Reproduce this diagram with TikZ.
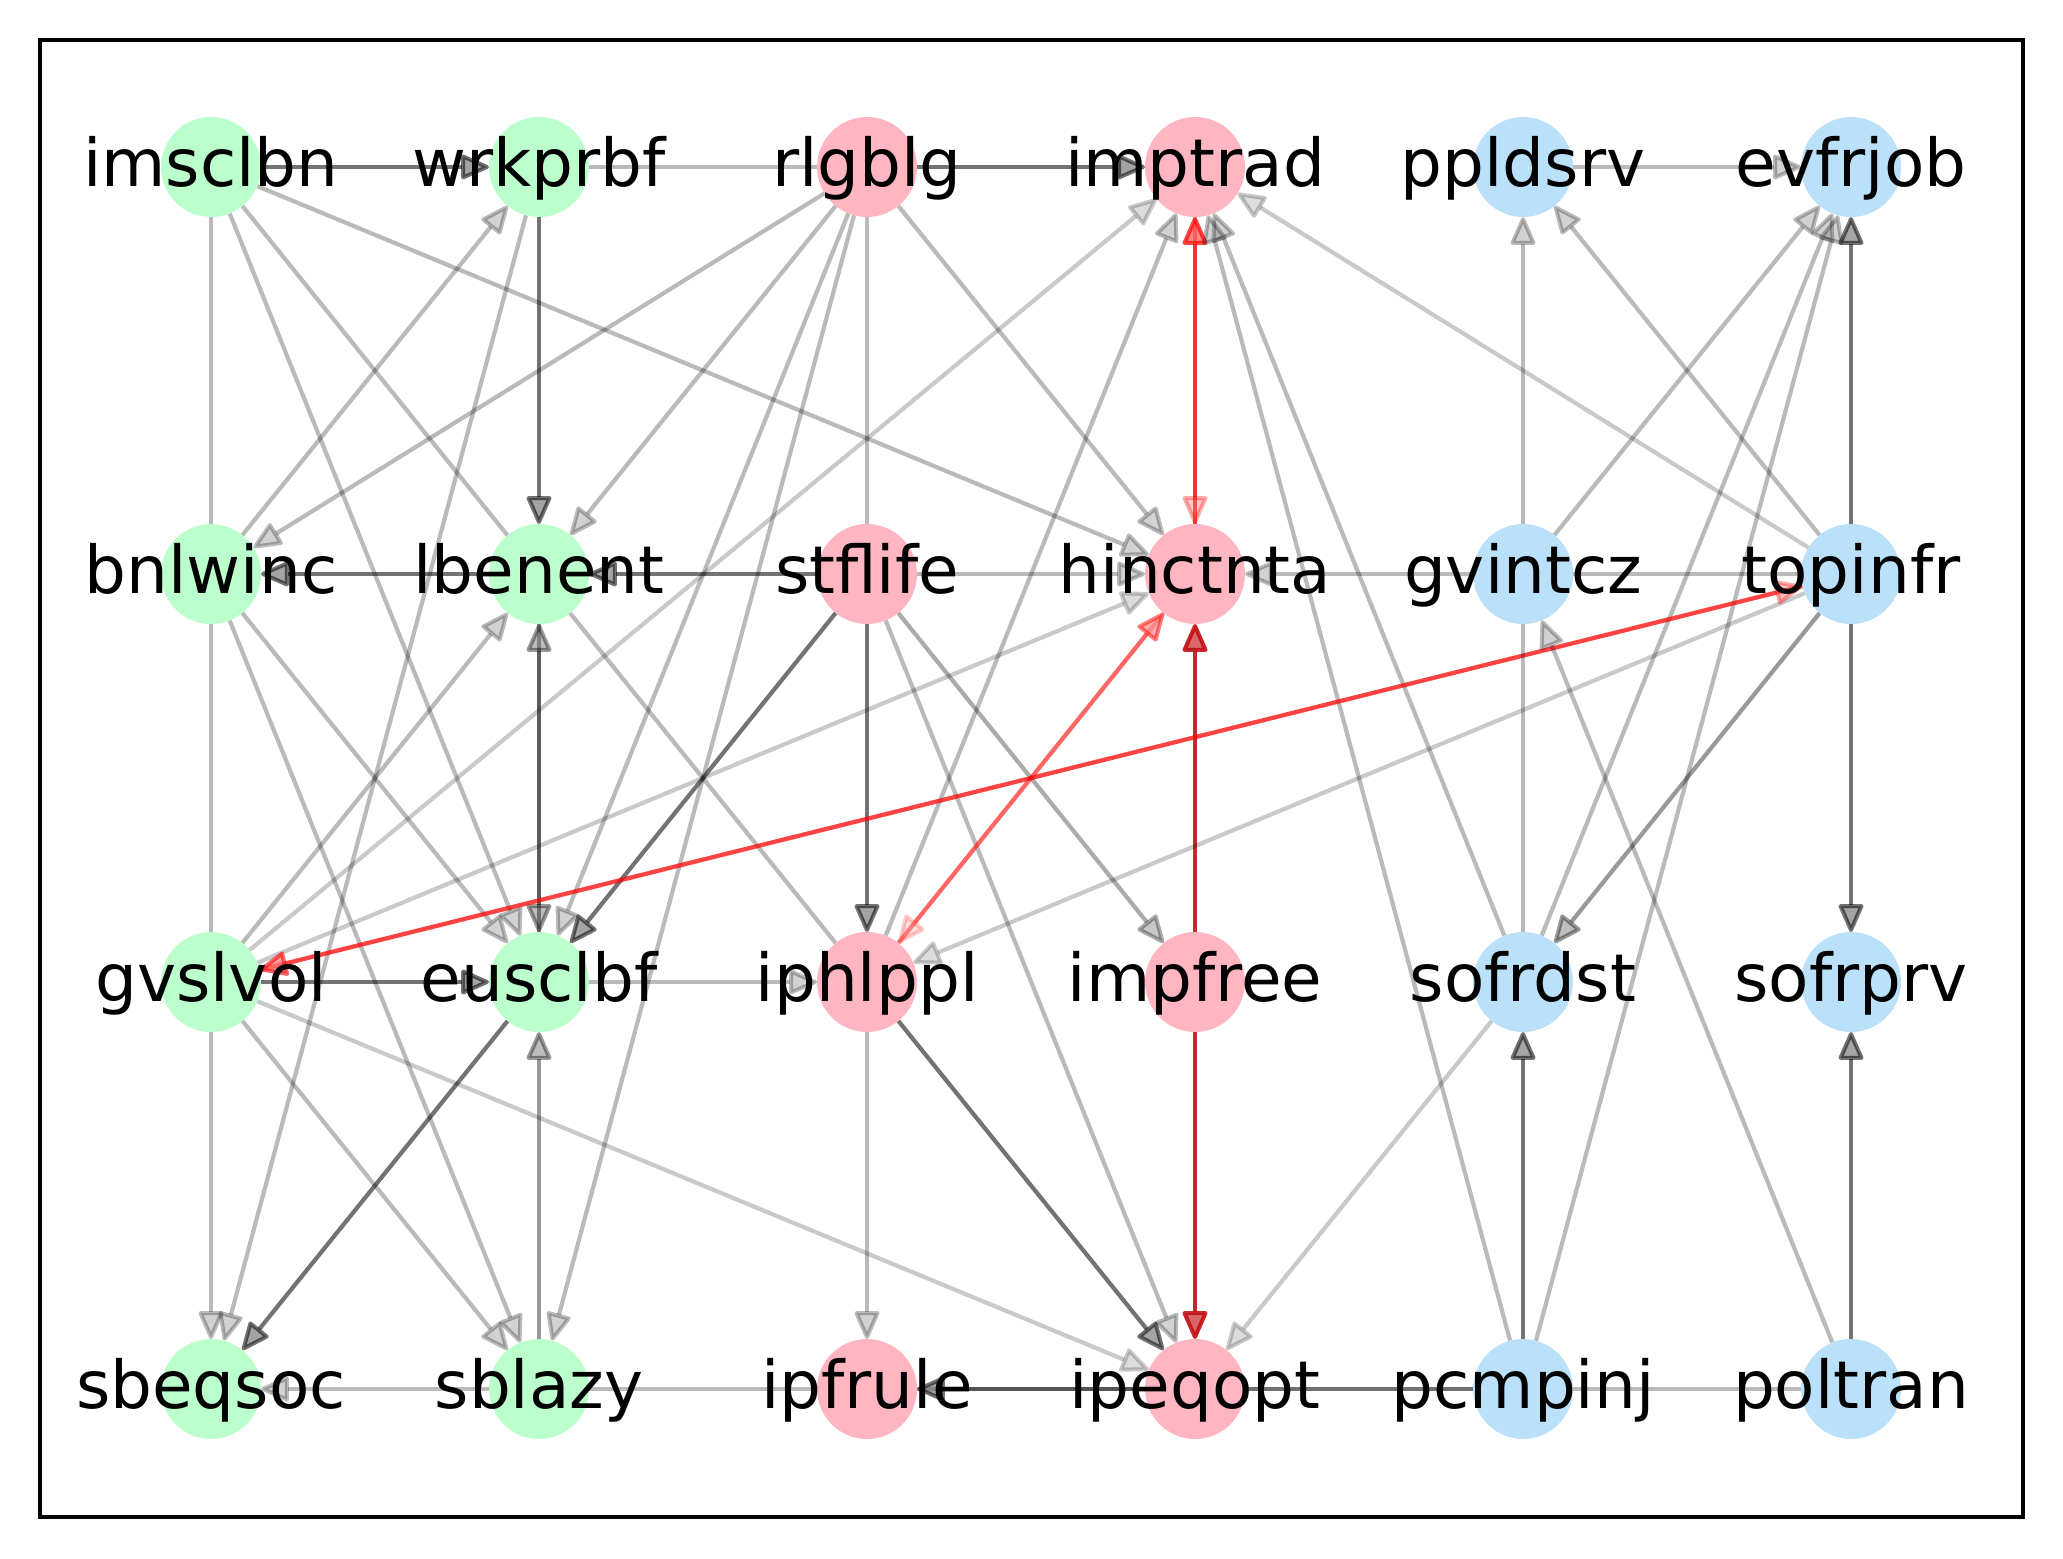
\documentclass[tikz,border=0pt]{standalone}
\usepackage{fontspec}
\setmainfont{DejaVu Sans}
\usetikzlibrary{arrows.meta}
\pgfdeclarelayer{bg}
\pgfsetlayers{bg,main}
\definecolor{ngreen}{RGB}{187,255,204}
\definecolor{npink}{RGB}{255,182,193}
\definecolor{nblue}{RGB}{187,225,250}
\definecolor{dred}{RGB}{195,15,20}
\begin{document}
\begin{tikzpicture}[x=1pt,y=-1pt,
  nd/.style={circle,minimum size=100pt,inner sep=0pt,outer sep=0pt,draw=none},
  lab/.style={font=\fontsize{66pt}{70pt}\selectfont,text height=50pt,text depth=12pt,inner sep=0pt},
  gn/.style={nd,fill=ngreen},
  pk/.style={nd,fill=npink},
  bl/.style={nd,fill=nblue},
  pl/.style={line width=4.2pt,draw=black},
  ed/.style={pl,-{Triangle[length=31pt,width=26pt,line width=4pt,round,fill=black!65]}},
  edr/.style={line width=4.2pt,draw=red,-{Triangle[length=31pt,width=26pt,line width=4pt,round,fill=red!65]}},
  eddr/.style={line width=4.2pt,draw=dred,opacity=0.9,-{Triangle[length=31pt,width=26pt,line width=4pt,round,fill=dred!70]}},
  lt/.style={opacity=0.27},
  vl/.style={opacity=0.21},
  md/.style={opacity=0.4},
  dk/.style={opacity=0.55}]
\useasboundingbox (0,0) rectangle (2063,1558);
\draw[line width=3.3pt] (40,40) rectangle (2023,1517);
% nodes
\node[gn,label={[lab]center:imsclbn}] (imsclbn) at (211,167) {};
\node[gn,label={[lab]center:wrkprbf}] (wrkprbf) at (539,167) {};
\node[pk,label={[lab]center:rlgblg}] (rlgblg) at (867,167) {};
\node[pk,label={[lab]center:imptrad}] (imptrad) at (1195,167) {};
\node[bl,label={[lab]center:ppldsrv}] (ppldsrv) at (1523,167) {};
\node[bl,label={[lab]center:evfrjob}] (evfrjob) at (1851,167) {};
\node[gn,label={[lab]center:bnlwinc}] (bnlwinc) at (211,574) {};
\node[gn,label={[lab]center:lbenent}] (lbenent) at (539,574) {};
\node[pk,label={[lab]center:stflife}] (stflife) at (867,574) {};
\node[pk,label={[lab]center:hinctnta}] (hinctnta) at (1195,574) {};
\node[bl,label={[lab]center:gvintcz}] (gvintcz) at (1523,574) {};
\node[bl,label={[lab]center:topinfr}] (topinfr) at (1851,574) {};
\node[gn,label={[lab]center:gvslvol}] (gvslvol) at (211,982) {};
\node[gn,label={[lab]center:eusclbf}] (eusclbf) at (539,982) {};
\node[pk,label={[lab]center:iphlppl}] (iphlppl) at (867,982) {};
\node[pk,label={[lab]center:impfree}] (impfree) at (1195,982) {};
\node[bl,label={[lab]center:sofrdst}] (sofrdst) at (1523,982) {};
\node[bl,label={[lab]center:sofrprv}] (sofrprv) at (1851,982) {};
\node[gn,label={[lab]center:sbeqsoc}] (sbeqsoc) at (211,1389) {};
\node[gn,label={[lab]center:sblazy}] (sblazy) at (539,1389) {};
\node[pk,label={[lab]center:ipfrule}] (ipfrule) at (867,1389) {};
\node[pk,label={[lab]center:ipeqopt}] (ipeqopt) at (1195,1389) {};
\node[bl,label={[lab]center:pcmpinj}] (pcmpinj) at (1523,1389) {};
\node[bl,label={[lab]center:poltran}] (poltran) at (1851,1389) {};
\begin{pgfonlayer}{bg}
% row 0
\draw[ed,dk] (imsclbn) -- (wrkprbf);
\draw[pl,lt] (wrkprbf) -- (rlgblg);
\draw[ed,dk] (rlgblg) -- (imptrad);
\draw[ed,lt] (ppldsrv) -- (evfrjob);
% from imsclbn
\draw[ed,lt] (imsclbn) -- (sbeqsoc);
\draw[pl,lt] (imsclbn) -- (iphlppl);
\draw[ed,lt] (imsclbn) -- (eusclbf);
\draw[ed,lt] (imsclbn) -- (hinctnta);
% wrkprbf
\draw[ed,dk] (wrkprbf) -- (lbenent);
\draw[ed,lt] (bnlwinc) -- (wrkprbf);
\draw[ed,lt] (wrkprbf) -- (sbeqsoc);
% rlgblg
\draw[ed,lt] (rlgblg) -- (bnlwinc);
\draw[ed,lt] (rlgblg) -- (lbenent);
\draw[ed,lt] (rlgblg) -- (eusclbf);
\draw[ed,lt] (rlgblg) -- (sblazy);
\draw[pl,lt] (rlgblg) -- (stflife);
\draw[ed,lt] (rlgblg) -- (hinctnta);
% imptrad
\draw[edr,opacity=0.72] (hinctnta) -- (imptrad);
\draw[edr,opacity=0.32] (imptrad) -- (hinctnta);
\draw[ed,vl] (gvslvol) -- (imptrad);
\draw[ed,lt] (iphlppl) -- (imptrad);
\draw[ed,lt] (sofrdst) -- (imptrad);
\draw[ed,lt] (pcmpinj) -- (imptrad);
\draw[ed,vl] (topinfr) -- (imptrad);
% ppldsrv / evfrjob
\draw[ed,lt] (gvintcz) -- (ppldsrv);
\draw[ed,lt] (topinfr) -- (ppldsrv);
\draw[ed,lt] (gvintcz) -- (evfrjob);
\draw[ed,lt] (sofrdst) -- (evfrjob);
\draw[ed,lt] (pcmpinj) -- (evfrjob);
\draw[ed,dk] (topinfr) -- (evfrjob);
% row 1
\draw[ed,dk] (lbenent) -- (bnlwinc);
\draw[ed,dk] (stflife) -- (lbenent);
\draw[ed,lt] (stflife) -- (hinctnta);
\draw[ed,lt] (topinfr) -- (hinctnta);
\draw[ed,lt] (bnlwinc) -- (eusclbf);
\draw[ed,lt] (bnlwinc) -- (sblazy);
\draw[ed,md] (lbenent) -- (eusclbf);
\draw[ed,md] (eusclbf) -- (lbenent);
\draw[ed,lt] (gvslvol) -- (lbenent);
\draw[ed,dk] (stflife) -- (eusclbf);
\draw[ed,dk] (stflife) -- (iphlppl);
\draw[ed,lt] (stflife) -- (ipeqopt);
\draw[ed,opacity=0.33] (stflife) -- (impfree);
\draw[ed,vl] (gvslvol) -- (hinctnta);
\draw[edr,opacity=0.5] (iphlppl) -- (hinctnta);
\draw[edr,opacity=0.2] (hinctnta) -- (iphlppl);
\draw[eddr] (impfree) -- (hinctnta);
\draw[ed,dk] (topinfr) -- (sofrprv);
\draw[ed,md] (topinfr) -- (sofrdst);
\draw[ed,vl] (topinfr) -- (iphlppl);
\draw[edr,opacity=0.6] (topinfr) -- (gvslvol);
\draw[edr,opacity=0.35] (gvslvol) -- (topinfr);
\draw[ed,lt] (poltran) -- (gvintcz);
\draw[pl,lt] (gvintcz) -- (sofrdst);
% row 2
\draw[ed,dk] (gvslvol) -- (eusclbf);
\draw[ed,lt] (eusclbf) -- (iphlppl);
\draw[ed,lt] (gvslvol) -- (sblazy);
\draw[ed,vl] (gvslvol) -- (ipeqopt);
\draw[ed,dk] (eusclbf) -- (sbeqsoc);
\draw[ed,md] (sblazy) -- (eusclbf);
\draw[ed,lt] (iphlppl) -- (ipfrule);
\draw[ed,dk] (iphlppl) -- (ipeqopt);
\draw[eddr] (impfree) -- (ipeqopt);
\draw[ed,vl] (sofrdst) -- (ipeqopt);
\draw[ed,dk] (pcmpinj) -- (sofrdst);
\draw[ed,dk] (poltran) -- (sofrprv);
% row 3
\draw[ed,lt] (poltran) -- (sbeqsoc);
\draw[ed,dk] (ipeqopt) -- (ipfrule);
\draw[pl,md] (pcmpinj) -- (ipeqopt);
\end{pgfonlayer}
\end{tikzpicture}
\end{document}
